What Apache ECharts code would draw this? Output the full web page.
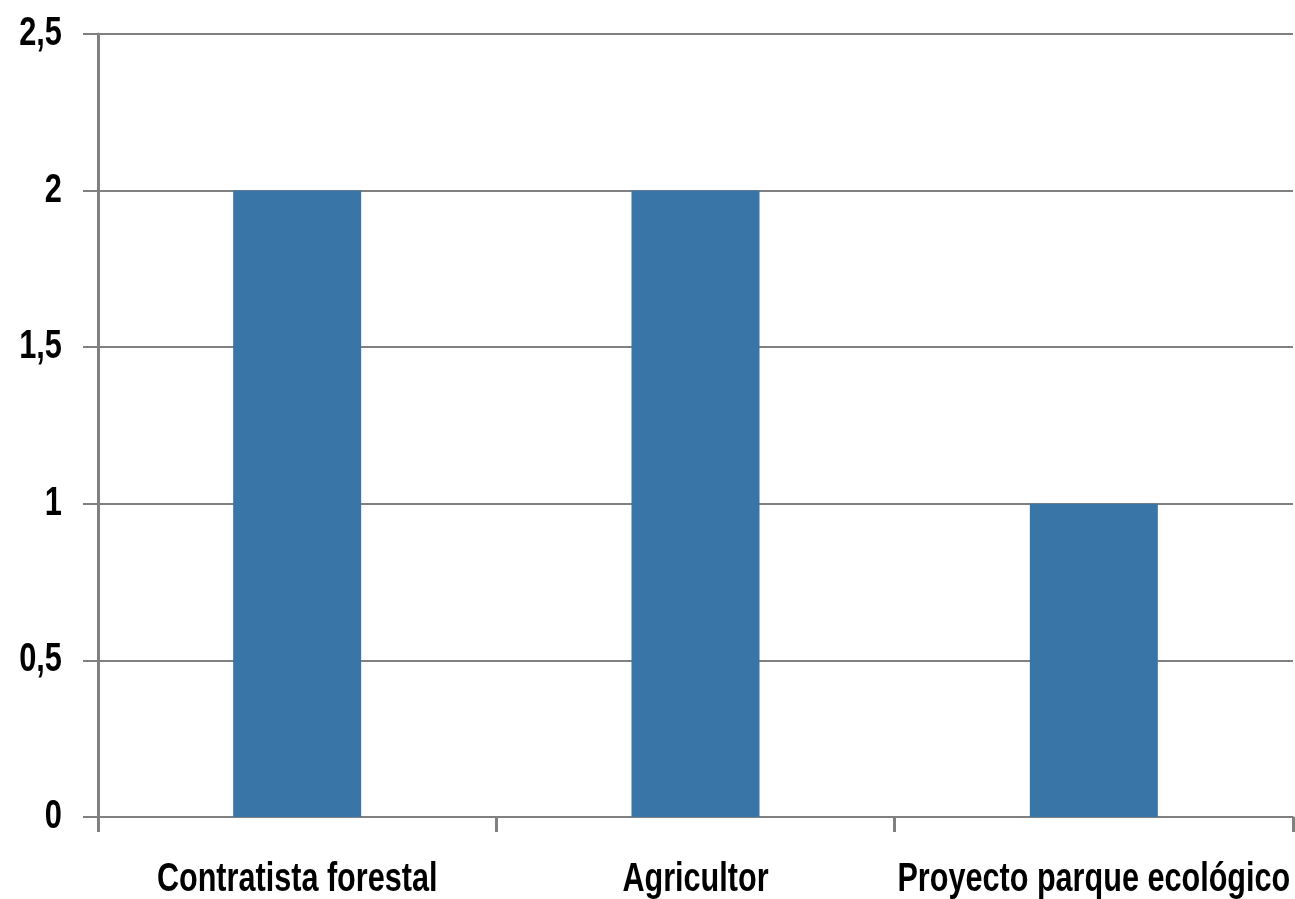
<!DOCTYPE html>
<html>
<head>
<meta charset="utf-8">
<script src="https://cdn.jsdelivr.net/npm/echarts@6/dist/echarts.min.js"></script>
<style>html,body{margin:0;padding:0;background:#fff}#c{width:1295px;height:899px}</style>
</head>
<body>
<div id="c"></div>
<script>
const categories = ['Contratista forestal', 'Agricultor', 'Proyecto parque ecológico'];
const values = [2, 2, 1];
const yTicks = [0, 0.5, 1, 1.5, 2, 2.5];

const font = "'Liberation Sans', Arial, sans-serif";
const chart = echarts.init(document.getElementById('c'));
chart.setOption({
  animation: false,
  backgroundColor: '#ffffff',
  grid: { left: 98, right: 2, top: 34, bottom: 82, containLabel: false, outerBoundsMode: 'none' },
  xAxis: {
    type: 'category',
    data: categories,
    boundaryGap: true,
    axisLine: { show: true, lineStyle: { color: '#808080', width: 2 } },
    axisTick: { show: true, length: 15, inside: false, lineStyle: { color: '#808080', width: 3 } },
    axisLabel: { show: false },
    splitLine: { show: false }
  },
  yAxis: {
    type: 'value',
    min: 0, max: 2.5, interval: 0.5,
    axisLine: { show: true, lineStyle: { color: '#808080', width: 3 } },
    axisTick: { show: true, length: 15, lineStyle: { color: '#808080', width: 2 } },
    axisLabel: { show: false },
    splitLine: { show: true, lineStyle: { color: '#808080', width: 2 } }
  },
  series: [{
    type: 'bar',
    data: values,
    barWidth: 128,
    itemStyle: { color: '#3a75a7' }
  }]
});

// Condensed bold labels (reference uses a narrow bold face), placed through the axes' own scales
const fmt = v => String(v).replace('.', ',');
const yZero = chart.convertToPixel({ yAxisIndex: 0 }, 0);
const labelStyle = { fill: '#000', fontFamily: font, fontWeight: 'bold', fontSize: 40 };
const g = [];
yTicks.forEach(v => {
  g.push({
    type: 'text', x: 62, y: chart.convertToPixel({ yAxisIndex: 0 }, v), scaleX: 0.77, silent: true,
    style: Object.assign({ text: fmt(v), align: 'right', verticalAlign: 'middle' }, labelStyle)
  });
});
categories.forEach(c => {
  g.push({
    type: 'text', x: chart.convertToPixel({ xAxisIndex: 0 }, c), y: yZero + 63, scaleX: 0.765, silent: true,
    style: Object.assign({ text: c, align: 'center', verticalAlign: 'middle' }, labelStyle)
  });
});
chart.setOption({ graphic: g });
</script>
</body>
</html>
